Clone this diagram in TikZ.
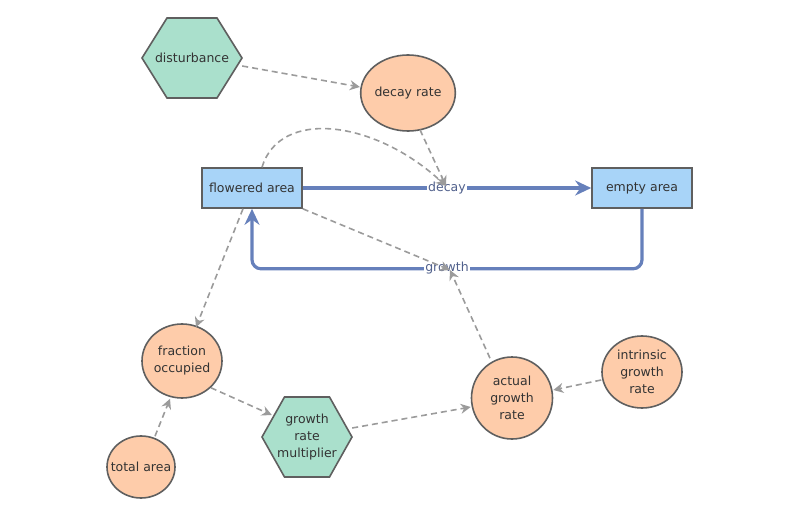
\documentclass[tikz,border=0pt]{standalone}
\usepackage{fontspec}
\setmainfont{DejaVu Sans}
\usetikzlibrary{shapes.geometric,arrows.meta,calc,backgrounds}
\definecolor{peach}{RGB}{254,204,170}
\definecolor{mint}{RGB}{170,224,204}
\definecolor{sky}{RGB}{168,212,248}
\definecolor{edge}{RGB}{95,95,95}
\definecolor{flowblue}{RGB}{102,128,187}
\definecolor{linkgray}{RGB}{155,155,155}
\definecolor{lbl}{RGB}{80,96,140}
\tikzset{
  txt/.style={align=center, text=black!80, inner sep=0pt, font=\fontsize{12.5}{17}\selectfont},
  base/.style={txt, draw=edge, line width=1.6pt},
  aux/.style={base, ellipse, fill=peach},
  hexbox/.style={txt, rectangle},
  hexdraw/.style={draw=edge, line width=1.6pt, fill=mint, line join=miter},
  stock/.style={base, rectangle, fill=sky, minimum width=100pt, minimum height=40pt},
  flowline/.style={draw=flowblue, line width=3.2pt, -{Stealth[length=16pt,width=15pt]}, rounded corners=9pt},
  link/.style={draw=linkgray, line width=1.6pt, dash pattern=on 6pt off 4pt, -{Stealth[length=10pt,width=10pt]}},
  flowlbl/.style={fill=white, inner sep=1pt, text=lbl, font=\fontsize{12.5}{14}\selectfont}
}
\newcommand\hexpath[3]{% node, half width, half height
  \path[hexdraw] ($(#1)+(-#2,0)$) -- ($(#1)+(-#2/2,-#3)$) -- ($(#1)+(#2/2,-#3)$) -- ($(#1)+(#2,0)$) -- ($(#1)+(#2/2,#3)$) -- ($(#1)+(-#2/2,#3)$) -- cycle;}
\begin{document}
\begin{tikzpicture}[x=1pt,y=-1pt]
\useasboundingbox (0,0) rectangle (800,516);
\node[hexbox, minimum width=100pt, minimum height=80pt] (dist) at (192,58) {disturbance};
\node[aux, minimum width=92pt, minimum height=76pt] (decr) at (408,93) {decay rate};
\node[stock] (fl) at (252,188) {flowered area};
\node[stock] (em) at (642,188) {empty area};
\node[aux, minimum width=80pt, minimum height=74pt] (frac) at (182,361) {fraction\\occupied};
\node[aux, inner xsep=-12pt, minimum width=68pt, minimum height=62pt] (tot) at (141,467) {total area};
\node[hexbox, minimum width=90pt, minimum height=80pt] (grm) at (307,437) {growth\\rate\\multiplier};
\node[aux, minimum width=81pt, minimum height=82pt] (agr) at (512,398) {actual\\growth\\rate};
\node[aux, minimum width=80pt, minimum height=72pt] (igr) at (642,372) {intrinsic\\growth\\rate};
\begin{scope}[on background layer]
  \hexpath{dist}{50}{40}
  \hexpath{grm}{45}{40}
\end{scope}
\coordinate (dv) at (447,188);
\coordinate (gv) at (447,268);
\coordinate (dvt) at (446,186);
\coordinate (gvt) at (450,270);
% flows
\draw[flowline] (fl.east) -- (em.west);
\draw[flowline] (em.south) -- ++(0,60) -| (fl.south);
\node[flowlbl] (decaylbl) at (dv) {decay};
\node[flowlbl] (growthlbl) at (gv) {growth};
% links
\draw[link] ($(dist.east)+(0,8)$) -- (decr.west |- 0,87);
\draw[link] (decr.south) ++(12,-2) -- (dvt);
\draw[link] (fl.north) ++(10,0) .. controls (280,108) and (375,120) .. (dvt);
\draw[link] ($(fl.south)+(-9,0)$) -- ($(frac.north)+(14,4)$);
\draw[link] (fl.south east) -- (gvt);
\draw[link] ($(agr.north)+(-22,2)$) -- (gvt);
\draw[link] (frac.south east) -- ($(grm.west)+(10,-22)$);
\draw[link] ($(tot.north)+(14,1)$) -- ($(frac.south)+(-12,0)$);
\draw[link] ($(grm.east)+(0,-9)$) -- (agr.west |- 0,407);
\draw[link] ($(igr.west)+(0,8)$) -- ($(agr.east)+(0,-8)$);
\end{tikzpicture}
\end{document}
